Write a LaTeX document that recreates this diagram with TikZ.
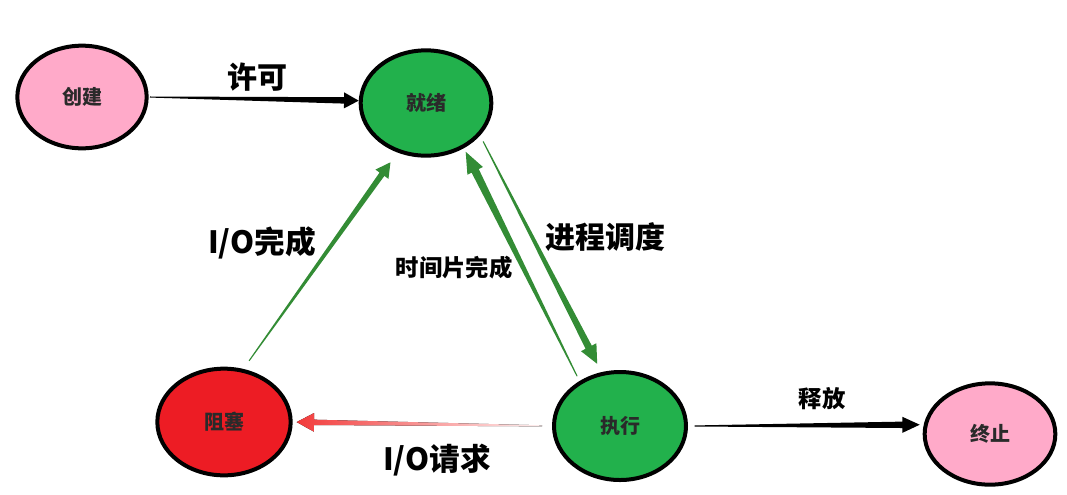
\documentclass[tikz,border=0pt]{standalone}
\usepackage{fontspec}
\usepackage{tikz}
\usetikzlibrary{calc,shapes.geometric}
\newfontfamily\cjk{Noto Sans CJK SC}
\definecolor{pinkst}{HTML}{FFAAC9}
\definecolor{greenst}{HTML}{22B14C}
\definecolor{redst}{HTML}{ED1C24}
\definecolor{flowgreen}{HTML}{338C35}
\definecolor{flowred}{HTML}{F23B3B}
\definecolor{txt}{HTML}{2A2A2A}
% tapered arrow: colour, from, to, gap at start, gap at end, shaft half width, head half width, head length
\newcommand\flow[8]{%
  \coordinate (fa) at ($(#2)!#4!(#3)$);
  \coordinate (fb) at ($(#3)!#5!(#2)$);
  \coordinate (fh) at ($(fb)!#8!(fa)$);
  \fill[#1] ($(fa)!0.4pt!90:(fb)$) -- ($(fh)!#6!-90:(fa)$) -- ($(fh)!#7!-90:(fa)$) -- (fb)
    -- ($(fh)!#7!90:(fa)$) -- ($(fh)!#6!90:(fa)$) -- ($(fa)!0.4pt!-90:(fb)$) -- cycle;
}
\begin{document}
\begin{tikzpicture}[x=0.75pt,y=-0.75pt,
  state/.style={ellipse,draw=black,line width=3pt,inner sep=0pt,
    text=txt,font=\cjk\bfseries\fontsize{15pt}{15pt}\selectfont},
  lbl/.style={text=black,inner sep=0pt,font=\cjk\bfseries\fontsize{#1}{#1}\selectfont}]
\useasboundingbox (0,0) rectangle (1067,494);
\node[state,fill=pinkst,minimum width=97pt,minimum height=77pt] (crt) at (82,97) {创建};
\node[state,fill=greenst,minimum width=98pt,minimum height=79pt] (rdy) at (426,103) {就绪};
\node[state,fill=redst,minimum width=100pt,minimum height=80pt] (blk) at (224,422) {阻塞};
\node[state,fill=greenst,minimum width=99pt,minimum height=81pt] (run) at (620,426) {执行};
\node[state,fill=pinkst,minimum width=98pt,minimum height=76pt] (ext) at (990,434) {终止};
% transitions
\flow{black}{crt.east}{rdy.178}{1pt}{0pt}{2.4pt}{6pt}{11pt}
\flow{flowgreen}{blk.70}{rdy.240}{7.5pt}{9pt}{2.2pt}{6pt}{11pt}
\flow{flowgreen}{rdy.-31}{run.109}{5pt}{7pt}{2.6pt}{6.5pt}{14pt}
\flow{flowgreen}{run.132}{rdy.-50}{4pt}{3pt}{3pt}{6.5pt}{16pt}
\flow{left color=flowred,middle color=flowred,right color=flowred!8}{run.180}{blk.0}{7.5pt}{3pt}{2pt}{7pt}{13pt}
\flow{black}{run.east}{ext.172}{5pt}{3pt}{2.4pt}{6pt}{13pt}
% labels
\node[lbl=22.5pt] (lxk) at (257,77) {许可};
\node[lbl=23pt] (lwc) at (262,243) {I/O完成};
\node[lbl=17.5pt] (lsj) at (454,268) {时间片完成};
\node[lbl=22.5pt] (ldd) at (605,237) {进程调度};
\node[lbl=23pt] (lqq) at (437,460) {I/O请求};
\node[lbl=17.5pt] (lsf) at (822,399) {释放};
\end{tikzpicture}
\end{document}
